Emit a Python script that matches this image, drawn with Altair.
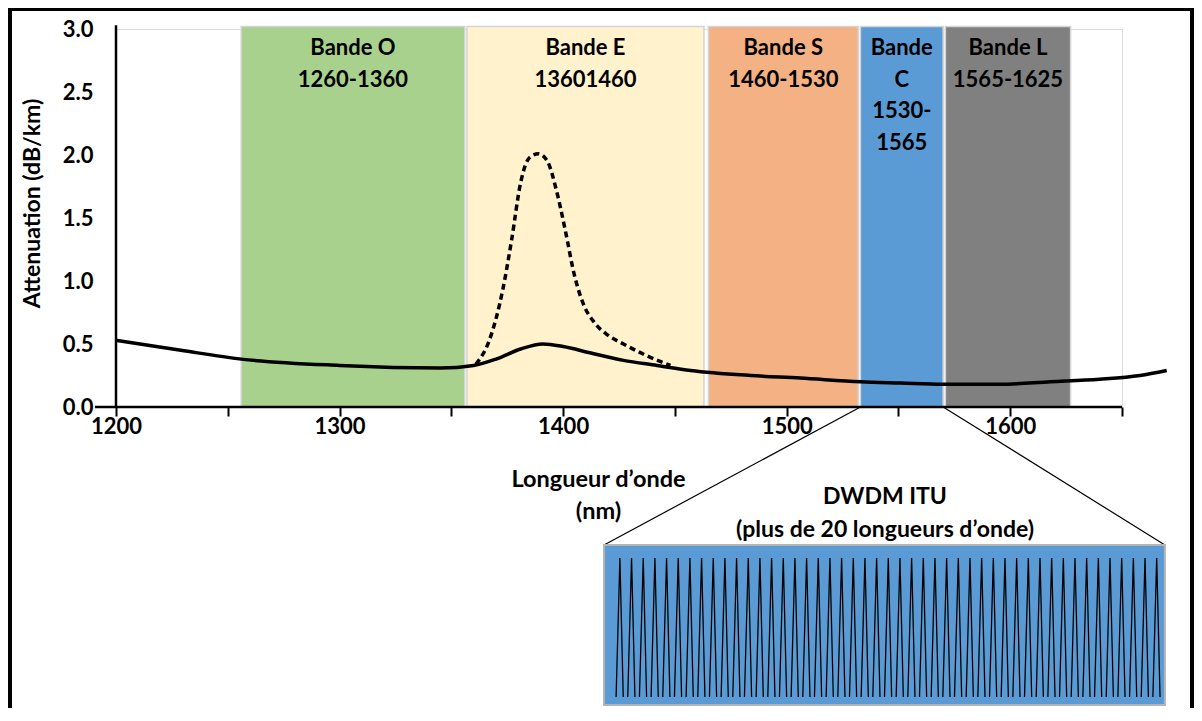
import altair as alt
import pandas as pd

# ---------------- data ----------------
band_names = ["Bande O", "Bande E", "Bande S", "Bande C", "Bande L"]
band_texts = ["Bande O\n1260-1360", "Bande E\n13601460", "Bande S\n1460-1530",
              "Bande\nC\n1530-\n1565", "Bande L\n1565-1625"]
band_start = [1256, 1357, 1465, 1533, 1571]
band_end = [1356, 1463, 1532, 1570, 1627]
band_colors = ["#A9D18E", "#FFF2CC", "#F4B183", "#5B9BD5", "#808080"]
band_top = 3.02

# attenuation curve (fibre with low water peak)
wl_solid = [1200, 1229, 1256, 1300, 1345, 1360, 1370, 1381, 1391, 1400, 1412, 1427,
            1442, 1457, 1484, 1506, 1533, 1551, 1570, 1595, 1618, 1640, 1658, 1670]
att_solid = [0.53, 0.45, 0.38, 0.33, 0.31, 0.33, 0.38, 0.46, 0.50, 0.48, 0.43, 0.37,
             0.33, 0.29, 0.25, 0.23, 0.20, 0.19, 0.18, 0.18, 0.20, 0.22, 0.25, 0.29]

# water peak (dashed)
wl_peak = [1361, 1367, 1373, 1377, 1381, 1385, 1389, 1393, 1397, 1401, 1405, 1409,
           1414, 1420, 1427, 1437, 1448]
att_peak = [0.34, 0.53, 0.93, 1.33, 1.78, 1.98, 2.01, 1.95, 1.72, 1.40, 1.05, 0.82,
            0.67, 0.57, 0.50, 0.41, 0.33]

x_ticks = [1200, 1250, 1300, 1350, 1400, 1450, 1500, 1550, 1600, 1650]
y_ticks = [0.0, 0.5, 1.0, 1.5, 2.0, 2.5, 3.0]

# DWDM channels shown in the magnified view
dwdm_channels = list(range(1, 48))

# ---------------- layout constants (in axis units) ----------------
inset_left, inset_right = 1418.3, 1669.2
inset_top, inset_bottom = -1.095, -2.365
spike_first, spike_step = 1425.4, 5.22
spike_top, spike_base = -1.198, -2.302
axis_start = 1190.6
y_axis_top = 3.03

FONT = "Lato"
FS = 22

xs = alt.Scale(domain=[1200, 1650], nice=False, zero=False)
ys = alt.Scale(domain=[0, 3], nice=False, zero=True)

x_axis = alt.Axis(
    values=x_ticks, format="d",
    labelExpr="datum.value % 100 == 0 ? datum.label : ''",
    labelFont=FONT, labelFontWeight="bold", labelFontSize=FS, labelColor="black",
    labelFlush=False, labelOverlap=False, labelPadding=0,
    ticks=True, tickColor="black", tickWidth=2, tickSize=9,
    domain=False, grid=False, zindex=1,
    title=["Longueur d’onde", "(nm)"], titleFont=FONT, titleFontWeight="bold",
    titleFontSize=23.5, titleColor="black", titleLineHeight=32,
    titleX=482, titleY=72, titleBaseline="middle", titleAlign="center",
)
y_axis = alt.Axis(
    values=y_ticks, format=".1f",
    labelFont=FONT, labelFontWeight="bold", labelFontSize=FS, labelColor="black",
    labelFlush=False, labelPadding=23, ticks=False,
    domain=False, grid=False, zindex=1,
    title="Attenuation (dB/km)", titleFont=FONT, titleFontWeight="bold",
    titleFontSize=23, titleColor="black", titleAngle=270,
    titleX=-84, titleY=174, titleBaseline="middle", titleAlign="center",
)


def X(field=None, datum=None):
    if datum is not None:
        return alt.X(datum=datum, type="quantitative", scale=xs, axis=x_axis)
    return alt.X(field, type="quantitative", scale=xs, axis=x_axis)


def Y(field=None, datum=None):
    if datum is not None:
        return alt.Y(datum=datum, type="quantitative", scale=ys, axis=y_axis)
    return alt.Y(field, type="quantitative", scale=ys, axis=y_axis)


bands_df = pd.DataFrame({"name": band_names, "label": band_texts,
                         "start": band_start, "end": band_end, "color": band_colors})
solid_df = pd.DataFrame({"wl": wl_solid, "att": att_solid})
peak_df = pd.DataFrame({"wl": wl_peak, "att": att_peak})

rows = []
for c in dwdm_channels:
    p = spike_first + (c - 1) * spike_step
    rows.append({"ch": c, "k": 0, "x": p - 1.7, "y": spike_base})
    rows.append({"ch": c, "k": 1, "x": p, "y": spike_top})
    rows.append({"ch": c, "k": 2, "x": p + 1.5, "y": spike_base})
spikes_df = pd.DataFrame(rows)

c_band = bands_df[bands_df["name"] == "Bande C"].iloc[0]
conn_df = pd.DataFrame({
    "x0": [float(c_band["start"]), float(c_band["end"])],
    "y0": [0.0, 0.0],
    "x1": [inset_left, inset_right],
    "y1": [inset_top, inset_top],
})
inset_df = pd.DataFrame({"x0": [inset_left], "x1": [inset_right],
                         "y0": [inset_top], "y1": [inset_bottom]})
one = pd.DataFrame({"t": ["DWDM ITU\n(plus de 20 longueurs d’onde)"]})

frame = alt.Chart(one).mark_rect(fill="transparent", stroke="black", strokeWidth=4).encode(
    x=alt.value(-106), x2=alt.value(1076), y=alt.value(-20), y2=alt.value(800)
)

bands = alt.Chart(bands_df).mark_rect(stroke="#d4d4d4", strokeWidth=1.5).encode(
    x=X("start"), x2="end", y=Y(datum=0), y2=alt.Y2(datum=band_top),
    color=alt.Color("color:N", scale=None),
)

band_labels = alt.Chart(bands_df).transform_calculate(
    mid="(datum.start + datum.end) / 2"
).mark_text(font=FONT, fontWeight="bold", fontSize=FS, color="black",
            lineBreak="\n", lineHeight=31.5, baseline="top", align="center").encode(
    x=X("mid"), y=alt.value(9), text="label:N"
)

x_line = alt.Chart(one).mark_rule(color="black", strokeWidth=2.5).encode(
    x=X(datum=axis_start), x2=alt.X2(datum=1650), y=Y(datum=0)
)
y_line = alt.Chart(one).mark_rule(color="black", strokeWidth=2.5).encode(
    x=X(datum=1200), y=Y(datum=0), y2=alt.Y2(datum=y_axis_top)
)

solid = alt.Chart(solid_df).mark_line(color="black", strokeWidth=3.5,
                                      interpolate="monotone").encode(
    x=X("wl"), y=Y("att")
)
peak = alt.Chart(peak_df).mark_line(color="black", strokeWidth=3.5, strokeDash=[6, 4],
                                    interpolate="monotone").encode(
    x=X("wl"), y=Y("att")
)

connectors = alt.Chart(conn_df).mark_rule(color="black", strokeWidth=1.2).encode(
    x=X("x0"), y=Y("y0"), x2="x1", y2="y1"
)

inset = alt.Chart(inset_df).mark_rect(fill="#5B9BD5", stroke="#b4b4b4", strokeWidth=2).encode(
    x=X("x0"), x2="x1", y=Y("y0"), y2="y1"
)

spikes = alt.Chart(spikes_df).mark_line(color="black", strokeWidth=1.3).encode(
    x=X("x"), y=Y("y"), detail="ch:N", order="k:O"
)

dwdm_text = alt.Chart(one).mark_text(font=FONT, fontWeight="bold", fontSize=23, color="black",
                                     lineBreak="\n", lineHeight=33, baseline="top",
                                     align="center").encode(
    x=alt.value(769), y=alt.value(457), text="t:N"
)

chart = alt.layer(
    frame, bands, band_labels, x_line, y_line, solid, peak, connectors, inset, spikes, dwdm_text
).properties(
    width=1006, height=378,
    padding={"left": 108, "top": 21, "right": 72, "bottom": 301},
    autosize=alt.AutoSizeParams(type="none"),
    background="white",
).configure_view(strokeWidth=0).configure(font=FONT)

chart.save("out.html", embed_options={"renderer": "svg", "actions": False})
